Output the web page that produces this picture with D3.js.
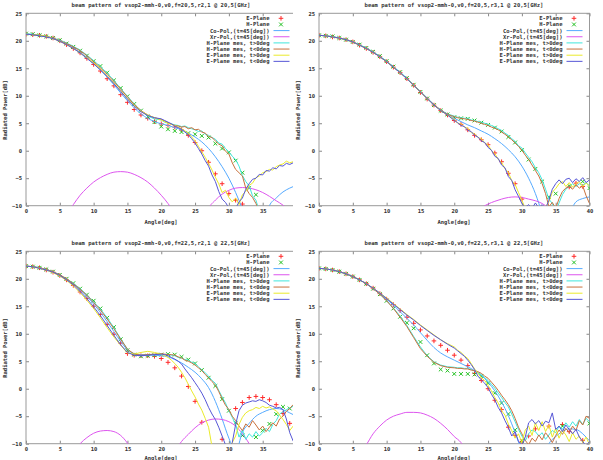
<!DOCTYPE html>
<html>
<head>
<meta charset="utf-8">
<script src="https://cdn.jsdelivr.net/npm/d3@7"></script>
<style>
  body { margin: 0; background: #fff; }
  svg { display: block; }
  text { font-family: "DejaVu Sans Mono", monospace; font-size: 5.5px; font-weight: bold; fill: #333; }
</style>
</head>
<body>
<div id="chart"></div>
<script>
// angles of the simulated points / model curves (deg)
const angleMarks = [0,1,2,3,4,5,6,7,8,9,10,11,12,13,14,15,16,17,18,19,20,21,22,23,24,25,26,27,28,29,30,31,32,33,34,35,36,37,38,39,40];
// angles of the measured traces (deg)
const angleMes = [0,1,2,3,4,5,6,7,8,9,10,11,12,13,14,15,16,17,18,19,
  20,20.5,21,21.5,22,22.5,23,23.5,24,24.5,25,25.5,26,26.5,27,27.5,28,28.5,29,29.5,30,
  30.5,31,31.5,32,32.5,33,33.5,34,34.5,35,35.5,36,36.5,37,37.5,38,38.5,39,39.5,40];

const xTicks = [0,5,10,15,20,25,30,35,40];
const yTicks = [-10,-5,0,5,10,15,20,25];

const legendLabels = ["E-Plane","H-Plane","Co-Pol,(t=45[deg])","Xr-Pol,(t=45[deg])",
  "H-Plane mes, t>0deg","H-Plane mes, t<0deg","E-Plane mes, t>0deg","E-Plane mes, t<0deg"];

const titles = [
  "beam pattern of vsop2-mmh-0,v0,f=20,5,r2,1 @ 20,5[GHz]",
  "beam pattern of vsop2-mmh-0,v0,f=20,5,r3,1 @ 20,5[GHz]",
  "beam pattern of vsop2-mmh-0,v0,f=22,5,r2,1 @ 22,5[GHz]",
  "beam pattern of vsop2-mmh-0,v0,f=22,5,r3,1 @ 22,5[GHz]"
];

// ---- 20.5 GHz, r2.1 (top left)
const eTL = [21.2,21.1,21.0,20.8,20.5,20.0,19.3,18.6,17.8,16.8,15.7,14.5,13.1,11.8,10.2,8.8,7.5,6.5,5.9,5.3,4.9,4.6,4.3,3.8,2.8,1.5,0.0,-2.1,-4.2,-6.0,-7.8,-9.0,-9.7,null,null,null,null,null,null,null,null];
const hTL = [21.3,21.2,21.0,20.8,20.5,20.1,19.5,18.9,18.2,17.3,16.3,15.4,14.2,12.8,11.4,9.9,8.5,7.3,6.2,5.2,4.4,3.9,3.6,3.4,3.2,3.0,2.7,2.4,1.3,0.4,-0.3,-1.8,-4.0,-6.8,-8.0,null,null,null,null,null,null];
const coTL = [21.2,21.1,21.0,20.8,20.4,20.0,19.4,18.7,17.9,17.0,15.9,14.7,13.4,12.0,10.5,9.1,7.8,6.7,5.9,5.3,4.9,4.6,4.2,3.8,3.2,2.5,1.6,0.4,-1.1,-2.9,-5.0,-7.6,-10.6,-14,-18,-14,-10.0,-8.6,-7.5,-6.8,-6.3];
const xrTL = [-30,-28,-25,-21,-17,-13.8,-11.6,-9.8,-8.1,-6.8,-5.7,-4.9,-4.3,-3.9,-3.8,-3.9,-4.3,-4.9,-5.7,-6.8,-8.1,-9.6,-11.5,-14,-17,-19,-15,-10.6,-9.0,-7.9,-7.2,-6.8,-6.7,-6.8,-7.1,-7.6,-8.3,-9.1,-9.9,-11,-12.5];
const hPosTL = [21.3,21.2,21.0,20.8,20.5,20.1,19.6,19.0,18.3,17.4,16.4,15.3,14.1,12.8,11.3,9.9,8.5,7.3,6.3,5.8,
  5.6,5.2,5.0,4.9,4.7,4.6,4.4,4.5,4.2,4.0,3.8,3.5,3.6,3.0,2.8,2.4,2.1,1.4,1.2,0.4,-0.2,-1.0,-1.6,-2.8,-4.5,-5.6,-6.4,-8.2,-9.0,-11,-12,-12,-12,-12,-12,-12,-12,-12,-12,-12,-12];
const hNegTL = [21.2,21.1,21.0,20.8,20.5,20.0,19.5,18.9,18.2,17.3,16.2,15.1,13.9,12.6,11.2,9.8,8.4,7.3,6.5,6.0,
  5.7,5.4,5.1,4.8,4.6,4.5,4.3,4.4,4.0,4.2,3.8,3.9,3.4,3.2,2.6,2.4,1.8,1.2,0.9,-0.1,-0.6,-2.2,-3.4,-4.0,-4.6,-6.8,-7.8,-8.5,-9.6,-11,-12,-12,-12,-12,-12,-12,-12,-12,-12,-12,-12];
const ePosTL = [21.2,21.1,21.0,20.8,20.4,19.9,19.3,18.6,17.8,16.9,16.0,14.9,13.6,12.3,10.9,9.5,8.2,7.2,6.5,6.0,
  5.6,5.3,5.0,4.8,4.6,4.3,4.0,3.6,3.2,2.5,1.8,0.8,-0.2,-1.2,-2.3,-3.5,-4.8,-6.0,-7.6,-7.2,-8.5,-9.3,-8.6,-9.8,-8.0,-7.4,-6.3,-5.9,-4.9,-4.6,-4.0,-3.8,-3.4,-3.5,-2.9,-2.6,-2.4,-1.9,-2.2,-2.0,-2.6];
const eNegTL = [21.2,21.1,20.9,20.7,20.4,19.9,19.3,18.6,17.8,16.8,15.8,14.7,13.5,12.2,10.8,9.4,8.1,7.1,6.4,6.0,
  5.8,5.5,5.2,4.9,4.5,4.2,3.9,3.4,2.9,2.2,1.4,0.4,-0.6,-1.8,-2.8,-4.4,-5.6,-7.4,-8.8,-9.4,-10.4,-11,-10.5,-9.3,-8.6,-7.0,-6.0,-5.2,-5.0,-4.3,-4.4,-3.6,-3.7,-3.1,-3.3,-2.7,-2.8,-2.3,-2.5,-2.2,-2.8];

// ---- 20.5 GHz, r3.1 (top right)
const eTR = [21.0,20.9,20.7,20.5,20.2,19.8,19.2,18.6,17.9,17.1,16.2,15.2,14.2,13.1,11.9,10.6,9.4,8.3,7.3,6.5,5.5,4.8,3.8,2.8,2.0,1.1,-0.4,-2.0,-4.1,-6.0,-8.8,null,null,null,null,null,null,-6.6,-5.9,-6.5,null];
const hTR = [21.0,20.9,20.8,20.5,20.2,19.8,19.3,18.7,18.0,17.2,16.3,15.3,14.3,13.2,12.0,10.7,9.5,8.3,7.3,6.6,6.1,5.9,5.8,5.5,5.1,4.7,4.2,3.5,2.5,1.5,0.1,-1.6,-3.3,-5.6,-8.4,-7.8,null,-6.4,null,-5.6,-6.8];
const coTR = [21.0,20.9,20.7,20.5,20.2,19.8,19.2,18.6,17.9,17.1,16.2,15.2,14.2,13.1,11.9,10.7,9.5,8.3,7.4,6.6,5.9,5.3,4.7,4.2,3.6,3.0,2.2,1.3,0.2,-1.1,-2.8,-5.0,-7.8,-11.5,-16,-20,-16,-11.8,-9.3,-8.7,-8.4];
const xrTR = [-30,-28,-26,-24,-22,-20,-18,-16.5,-15,-14,-13.2,-12.6,-12.2,-12,-12,-12.2,-12.6,-13.2,-14,-15,-16,-15,-13.2,-11.6,-10.4,-9.7,-9.2,-8.8,-8.5,-8.4,-8.5,-8.8,-9.1,-9.6,-10.5,-11.8,-13,-15,-18,-15,-12.5];
const hPosTR = [21.0,20.9,20.8,20.5,20.2,19.8,19.3,18.7,18.0,17.2,16.3,15.3,14.3,13.2,12.0,10.8,9.6,8.4,7.4,6.7,
  6.3,6.1,6.0,5.9,5.9,5.6,5.5,5.3,5.2,5.0,4.8,4.6,4.3,4.0,3.7,3.2,2.8,2.2,1.7,0.9,0.5,-0.4,-1.2,-2.0,-3.1,-4.0,-5.3,-7.0,-8.8,-9.6,-11,-9.5,-8.0,-7.0,-6.5,-6.0,-6.5,-6.0,-6.3,-5.8,-6.4];
const hNegTR = [21.0,20.9,20.7,20.5,20.2,19.8,19.2,18.6,17.9,17.1,16.2,15.2,14.2,13.1,11.9,10.7,9.5,8.4,7.4,6.6,
  6.2,6.0,5.9,5.8,5.7,5.5,5.4,5.2,5.0,4.8,4.6,4.3,4.1,3.8,3.4,3.0,2.5,2.0,1.4,0.8,0.1,-0.8,-1.6,-2.6,-3.6,-4.6,-6.0,-7.8,-10.2,-9.4,-10.5,-8.7,-7.4,-6.8,-6.5,-7.0,-6.2,-6.8,-6.4,-8.2,-9.6];
const ePosTR = [21.0,20.9,20.7,20.5,20.2,19.8,19.2,18.6,17.9,17.1,16.2,15.2,14.2,13.1,11.9,10.7,9.5,8.3,7.3,6.5,
  5.7,5.0,4.9,4.3,4.1,3.3,3.1,2.4,2.2,1.4,1.1,0.0,-0.5,-1.6,-2.1,-3.3,-3.9,-5.5,-6.1,-7.6,-9.0,-10.5,-11,-10.8,-11,-10.6,-11,-10.2,-9.3,-7.5,-6.9,-6.0,-5.6,-6.5,-5.8,-6.6,-6.0,-5.6,-6.5,-5.9,-6.4];
const eNegTR = [21.0,20.9,20.7,20.5,20.2,19.8,19.2,18.6,17.9,17.1,16.2,15.2,14.2,13.1,11.9,10.7,9.5,8.3,7.3,6.5,
  5.5,5.1,4.6,4.4,3.7,3.5,2.8,2.5,1.8,1.5,0.6,0.1,-1.0,-1.4,-2.6,-3.1,-4.7,-5.4,-7.1,-8.3,-9.6,-10.3,-9.8,-10.5,-9.5,-10.4,-9.8,-10.5,-9.0,-7.0,-6.0,-5.3,-6.0,-5.2,-5.0,-5.8,-5.1,-5.6,-4.9,-5.8,-5.3];

// ---- 22.5 GHz, r2.1 (bottom left)
const eBL = [22.3,22.2,22.0,21.6,21.2,20.6,19.8,18.8,17.6,16.4,15.0,13.5,11.7,9.9,8.3,6.4,6.1,6.0,6.0,5.9,5.5,4.8,3.8,2.3,0.4,-2.3,-6.1,null,null,-9.2,null,-3.6,-2.5,-1.6,-1.4,-1.6,-2.0,-2.9,-4.5,-6.3,null];
const hBL = [22.3,22.2,22.0,21.7,21.3,20.7,20.0,19.2,18.2,17.1,16.0,14.6,12.9,11.2,9.0,7.0,6.2,5.9,6.0,6.1,6.2,6.3,6.2,5.8,5.3,4.6,3.4,2.0,0.5,-1.9,-4.0,-6.2,-8.5,null,-8.8,-7.6,-6.4,-4.6,-3.3,-3.6,-3.2];
const coBL = [22.3,22.2,22.0,21.7,21.2,20.6,19.9,19.0,18.0,16.8,15.4,13.9,12.2,10.4,8.6,7.1,6.4,6.2,6.2,6.1,6.0,5.8,5.3,4.7,3.9,3.0,1.8,0.2,-2.3,-5.5,-9.0,-11.5,-7.9,-6.3,-5.0,-4.3,-3.8,-3.6,-3.8,-4.4,-5.0];
const xrBL = [-30,-27,-24,-21,-18,-15.5,-13.5,-11.6,-10.0,-8.9,-8.1,-7.7,-7.6,-7.8,-8.5,-9.9,-12,-15,-19,-22,-18,-14,-11.5,-9.6,-8.3,-7.1,-6.2,-5.7,-5.5,-5.6,-6.0,-6.8,-8.2,-10.0,-12.5,-16,-20,-24,-27,-29,-30];
const hPosBL = [22.3,22.2,22.0,21.7,21.3,20.7,20.0,19.2,18.2,17.1,15.8,14.5,12.9,11.1,9.1,7.2,6.2,6.0,6.1,6.2,
  6.3,6.2,6.3,6.1,6.0,5.7,5.6,5.3,5.2,4.8,4.6,4.0,3.4,2.9,2.3,1.5,1.0,-0.3,-1.5,-2.6,-4.0,-5.2,-6.5,-8.8,-7.5,-9.2,-8.2,-8.8,-7.8,-8.6,-8.0,-7.2,-7.8,-6.5,-5.8,-4.6,-4.2,-3.8,-3.5,-3.2,-3.4];
const hNegBL = [22.3,22.2,22.0,21.7,21.3,20.7,20.0,19.1,18.1,17.0,15.7,14.3,12.7,10.9,9.0,7.2,6.3,6.1,6.2,6.3,
  6.4,6.3,6.2,6.2,6.1,5.8,5.6,5.2,5.0,4.7,4.3,3.8,3.3,2.6,2.0,1.3,0.7,-0.5,-1.8,-3.0,-3.8,-5.0,-5.8,-6.8,-7.6,-6.4,-7.0,-5.8,-6.6,-7.5,-6.8,-7.8,-7.0,-6.2,-6.8,-5.5,-5.0,-4.1,-3.6,-2.9,-3.2];
const ePosBL = [22.3,22.2,21.9,21.6,21.1,20.5,19.7,18.7,17.5,16.1,14.6,12.9,11.1,9.4,7.9,6.5,6.3,6.6,6.8,6.6,
  6.3,6.0,5.7,5.2,4.6,3.9,3.0,2.0,0.8,-0.4,-1.5,-2.8,-3.9,-5.4,-7.0,-10.5,-12,-12,-12,-12,-11,-9.8,-8.6,-6.5,-5.2,-4.4,-4.0,-3.8,-3.4,-3.6,-3.2,-3.5,-3.3,-3.7,-4.0,-4.8,-5.6,-6.5,-7.6,-6.8,-7.2];
const eNegBL = [22.3,22.2,21.9,21.6,21.2,20.6,19.8,18.9,17.7,16.4,14.9,13.3,11.5,9.7,8.0,6.6,6.1,6.0,6.1,6.2,
  6.3,6.2,6.0,5.7,5.4,5.0,4.5,3.6,2.8,2.0,1.1,0.2,-0.8,-2.0,-3.4,-4.6,-5.6,-7.0,-8.6,-10.2,-11,-9.8,-6.5,-4.0,-3.0,-2.6,-2.4,-2.2,-2.3,-2.0,-2.2,-2.5,-3.0,-3.2,-3.5,-3.4,-3.8,-5.5,-8.0,-9.5,-10.5];

// ---- 22.5 GHz, r3.1 (bottom right)
const eBR = [21.9,21.8,21.6,21.3,20.9,20.4,19.8,19.1,18.3,17.3,16.3,15.3,14.2,13.0,11.9,10.7,9.6,8.7,7.9,7.0,6.1,5.2,4.2,2.8,1.5,0.0,-2.1,-3.8,-7.0,-8.5,-9.6,-8.6,-7.3,null,-6.8,null,-6.5,-7.8,null,-9.4,null];
const hBR = [21.9,21.8,21.6,21.3,20.9,20.4,19.8,19.1,18.2,17.2,16.0,14.6,13.1,12.0,11.0,8.5,6.1,4.6,3.5,3.3,2.7,2.7,2.7,2.6,2.3,1.0,-0.8,-2.6,-4.6,-7.5,-9.5,null,null,null,null,null,-6.8,null,null,null,-6.3];
const coBR = [21.9,21.8,21.6,21.3,20.9,20.4,19.8,19.1,18.2,17.3,16.3,15.2,14.0,12.8,11.6,10.2,8.8,7.5,6.5,5.8,5.2,4.6,4.0,3.3,2.4,1.2,-0.4,-2.4,-4.9,-8.0,-11.5,-16,-20,-13,-10.0,-8.7,-7.8,-7.3,-7.4,-8.2,-9.5];
const xrBR = [-30,-27,-24,-21,-17.5,-14.5,-12,-10.2,-8.2,-6.8,-5.7,-5.0,-4.6,-4.3,-4.3,-4.4,-4.8,-5.4,-6.3,-7.4,-8.7,-9.8,-12,-15,-19,-23,-26,-28,-28,-27,-25,-23,-21,-19,-17,-15.5,-14.5,-14,-13.8,-14,-14.5];
const hPosBR = [21.9,21.8,21.6,21.3,20.9,20.4,19.8,19.1,18.2,17.2,16.0,14.7,13.2,11.5,9.5,7.6,6.0,4.9,4.3,4.0,
  3.9,3.8,3.8,3.7,3.7,3.5,3.2,2.9,2.6,2.0,1.5,0.8,0.1,-0.8,-1.6,-2.5,-3.3,-4.6,-6.0,-7.4,-8.6,-9.5,-8.2,-7.5,-7.8,-8.6,-8.0,-9.2,-8.4,-7.6,-8.0,-6.8,-7.4,-6.2,-7.0,-6.0,-6.8,-5.6,-6.5,-5.4,-6.0];
const hNegBR = [21.9,21.8,21.6,21.3,20.9,20.4,19.8,19.1,18.2,17.2,16.0,14.6,13.0,11.3,9.3,7.3,5.9,4.8,4.2,3.9,
  3.8,3.7,3.7,3.6,3.6,3.4,3.3,3.1,2.8,2.3,1.9,1.2,0.5,-0.3,-1.2,-2.0,-2.9,-4.0,-5.4,-7.0,-8.2,-9.4,-10.2,-9.0,-9.6,-8.4,-9.3,-8.0,-8.8,-9.8,-8.5,-7.5,-8.3,-7.2,-8.0,-6.8,-7.6,-5.8,-6.6,-5.0,-5.4];
const ePosBR = [21.9,21.8,21.6,21.3,20.9,20.4,19.8,19.1,18.3,17.4,16.5,15.5,14.5,13.5,12.6,11.6,10.7,9.8,8.9,8.2,
  7.6,7.0,6.6,6.0,5.5,4.6,3.6,2.8,2.0,1.5,0.6,-0.4,-1.6,-2.6,-4.0,-4.8,-6.4,-7.6,-9.0,-8.2,-9.8,-7.5,-6.8,-8.5,-6.2,-7.6,-6.0,-7.8,-6.6,-8.8,-7.2,-9.0,-7.6,-8.4,-9.6,-8.0,-9.2,-8.6,-9.8,-8.8,-10.2];
const eNegBR = [21.9,21.8,21.6,21.3,20.9,20.4,19.8,19.1,18.3,17.4,16.4,15.4,14.4,13.4,12.5,11.5,10.6,9.7,8.9,8.1,
  7.4,6.9,6.4,5.9,5.2,4.4,3.5,2.3,1.6,1.0,0.2,-1.0,-2.0,-3.4,-4.4,-5.8,-7.0,-8.6,-7.8,-9.6,-10.3,-8.8,-6.2,-5.6,-6.4,-5.8,-6.8,-5.9,-6.2,-4.4,-7.4,-6.8,-7.8,-6.6,-7.4,-8.2,-7.4,-8.8,-9.6,-10.4,-9.6];

const colors = {
  e: "#ff2a2a", h: "#22c022", co: "#55aaff", xr: "#dd55ee",
  hPos: "#40e6dc", hNeg: "#c8703c", ePos: "#eaea2a", eNeg: "#5656d6"
};

const panels = [
  {title: titles[0], ox: 0,   oy: 0,   e: eTL, h: hTL, co: coTL, xr: xrTL, hPos: hPosTL, hNeg: hNegTL, ePos: ePosTL, eNeg: eNegTL},
  {title: titles[2], ox: 0,   oy: 238, e: eBL, h: hBL, co: coBL, xr: xrBL, hPos: hPosBL, hNeg: hNegBL, ePos: ePosBL, eNeg: eNegBL},
  {title: titles[1], ox: 293, oy: 0,   e: eTR, h: hTR, co: coTR, xr: xrTR, hPos: hPosTR, hNeg: hNegTR, ePos: ePosTR, eNeg: eNegTR},
  {title: titles[3], ox: 293, oy: 238, e: eBR, h: hBR, co: coBR, xr: xrBR, hPos: hPosBR, hNeg: hNegBR, ePos: ePosBR, eNeg: eNegBR}
];

const width = 603, height = 460;
const plot = {left: 26, top: 13.3, right: 296.5, bottom: 205.7};

const svg = d3.select("#chart").append("svg")
  .attr("width", width).attr("height", height);

svg.append("defs").append("clipPath").attr("id", "plotclip")
  .append("rect")
  .attr("x", plot.left).attr("y", plot.top)
  .attr("width", plot.right - plot.left).attr("height", plot.bottom - plot.top);

const x = d3.scaleLinear().domain([0, 40]).range([plot.left, plot.right]);
const y = d3.scaleLinear().domain([-10, 25]).range([plot.bottom, plot.top]);

const lineMes = d3.line()
  .x((d) => x(d[0])).y((d) => y(d[1]));
const lineModel = d3.line()
  .x((d) => x(d[0])).y((d) => y(d[1]))
  .curve(d3.curveMonotoneX);

function plusPath(cx, cy, r) {
  return `M${cx - r},${cy}H${cx + r}M${cx},${cy - r}V${cy + r}`;
}
function crossPath(cx, cy, r) {
  return `M${cx - r},${cy - r}L${cx + r},${cy + r}M${cx - r},${cy + r}L${cx + r},${cy - r}`;
}

panels.forEach((p) => {
  const g = svg.append("g").attr("transform", `translate(${p.ox},${p.oy})`);

  // each panel image has its own white background
  g.append("rect").attr("x", 0).attr("y", 0)
    .attr("width", 310).attr("height", 240).attr("fill", "#fff");

  // axes, gnuplot style: inward ticks mirrored on all sides
  g.append("g").attr("transform", `translate(${plot.left},0)`)
    .call(d3.axisLeft(y).tickValues(yTicks).tickSize(-3).tickPadding(4))
    .call((a) => a.select(".domain").remove());
  g.append("g").attr("transform", `translate(${plot.right},0)`)
    .call(d3.axisRight(y).tickValues(yTicks).tickSize(-3).tickFormat(""))
    .call((a) => a.select(".domain").remove());
  g.append("g").attr("transform", `translate(0,${plot.bottom})`)
    .call(d3.axisBottom(x).tickValues(xTicks).tickSize(-3).tickPadding(3.6))
    .call((a) => a.select(".domain").remove());
  g.append("g").attr("transform", `translate(0,${plot.top})`)
    .call(d3.axisTop(x).tickValues(xTicks).tickSize(-3).tickFormat(""))
    .call((a) => a.select(".domain").remove());
  g.selectAll(".tick line").attr("stroke", "#888");
  g.selectAll(".tick text").attr("fill", "#333").attr("font-size", null).attr("font-family", null);

  g.append("rect")
    .attr("x", plot.left).attr("y", plot.top)
    .attr("width", plot.right - plot.left).attr("height", plot.bottom - plot.top)
    .attr("fill", "none").attr("stroke", "#999").attr("stroke-width", 1);

  g.append("text").attr("x", 161).attr("y", 6.8)
    .attr("text-anchor", "middle").text(p.title);
  // the lower panels sit against the page edge, keep their label inside it
  g.append("text").attr("x", 161).attr("y", p.oy > 0 ? 221.6 : 223.5)
    .attr("text-anchor", "middle").text("Angle[deg]");
  g.append("text")
    .attr("transform", `translate(6.5,110) rotate(-90)`)
    .attr("text-anchor", "middle").text("Radiated Power[dB]");

  const area = g.append("g").attr("clip-path", "url(#plotclip)");

  const pts = (vals) => angleMarks.map((a, i) => [a, vals[i]])
    .filter((d) => d[1] !== null && d[1] >= -10);

  // E-Plane (+)
  area.append("path")
    .attr("d", pts(p.e).map((d) => plusPath(x(d[0]), y(d[1]), 2.3)).join(""))
    .attr("stroke", colors.e).attr("stroke-width", 1).attr("fill", "none");
  // H-Plane (x)
  area.append("path")
    .attr("d", pts(p.h).map((d) => crossPath(x(d[0]), y(d[1]), 1.9)).join(""))
    .attr("stroke", colors.h).attr("stroke-width", 1).attr("fill", "none");

  const model = (vals) => angleMarks.map((a, i) => [a, vals[i]]);
  const mes = (vals) => angleMes.map((a, i) => [a, vals[i]]);

  area.append("path").attr("d", lineModel(model(p.co)))
    .attr("stroke", colors.co).attr("fill", "none").attr("stroke-width", 1);
  area.append("path").attr("d", lineModel(model(p.xr)))
    .attr("stroke", colors.xr).attr("fill", "none").attr("stroke-width", 1);

  [["hPos", p.hPos], ["hNeg", p.hNeg], ["ePos", p.ePos], ["eNeg", p.eNeg]].forEach(([k, vals]) => {
    area.append("path").attr("d", lineMes(mes(vals)))
      .attr("stroke", colors[k]).attr("fill", "none").attr("stroke-width", 1);
  });

  // legend
  const keys = ["e", "h", "co", "xr", "hPos", "hNeg", "ePos", "eNeg"];
  const leg = g.append("g");
  legendLabels.forEach((lab, i) => {
    const ly = 18.3 + i * 6.15;
    leg.append("text").attr("x", 269.5).attr("y", ly).attr("dy", "0.35em")
      .attr("text-anchor", "end").text(lab);
    const k = keys[i];
    if (k === "e") {
      leg.append("path").attr("d", plusPath(281, ly, 2.3))
        .attr("stroke", colors.e).attr("stroke-width", 1);
    } else if (k === "h") {
      leg.append("path").attr("d", crossPath(281, ly, 1.9))
        .attr("stroke", colors.h).attr("stroke-width", 1);
    } else {
      leg.append("line").attr("x1", 273.5).attr("x2", 289.5)
        .attr("y1", ly).attr("y2", ly)
        .attr("stroke", colors[k]).attr("stroke-width", 1);
    }
  });
});
</script>
</body>
</html>
